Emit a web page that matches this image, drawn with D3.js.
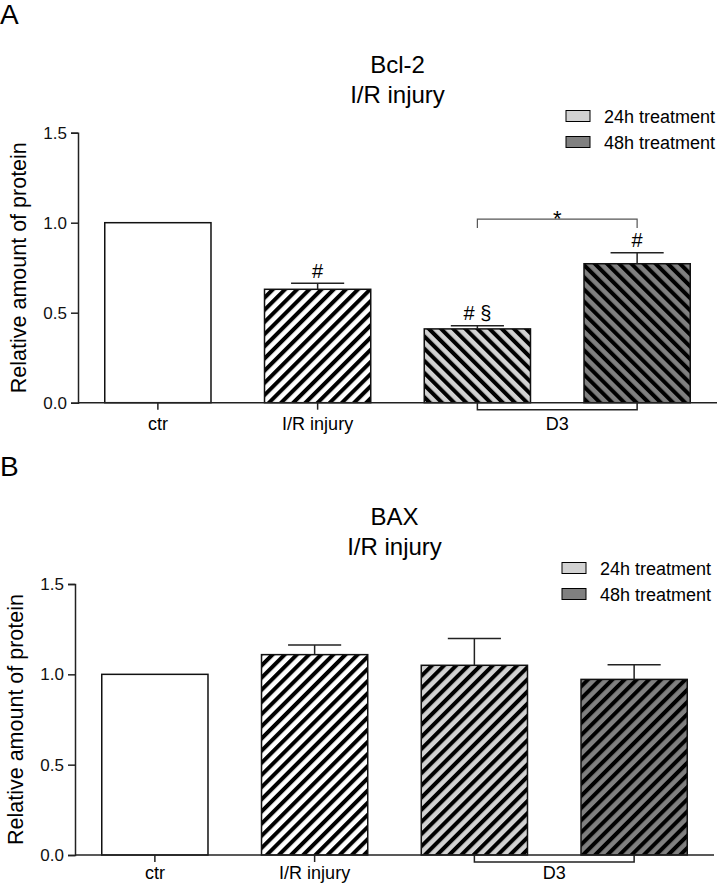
<!DOCTYPE html>
<html>
<head>
<meta charset="utf-8">
<script src="https://cdn.jsdelivr.net/npm/d3@7"></script>
<style>
  html, body { margin: 0; padding: 0; background: #fff; }
  svg { display: block; font-family: "Liberation Sans", Arial, sans-serif; }
</style>
</head>
<body>
<svg id="chart" width="719" height="886"></svg>
<script>
// ---------- data ----------
const categories = ["ctr", "I/R injury", "D3 24h", "D3 48h"];
const xTickLabels = ["ctr", "I/R injury"];
const groupLabel = "D3";
const legendLabels = ["24h treatment", "48h treatment"];
const yTicks = [0.0, 0.5, 1.0, 1.5];
const yLabel = "Relative amount of protein";

const bcl2Means = [1.0, 0.63, 0.41, 0.772];
const bcl2Errors = [0, 0.033, 0.018, 0.061];
const bcl2Marks = ["", "#", "# §", "#"];

const baxMeans = [1.0, 1.109, 1.05, 0.972];
const baxErrors = [0, 0.053, 0.149, 0.081];

// ---------- drawing ----------
const svg = d3.select("#chart");
const defs = svg.append("defs");

function stripePattern(id, bg, angle) {
  const p = defs.append("pattern")
    .attr("id", id)
    .attr("patternUnits", "userSpaceOnUse")
    .attr("width", 8.6).attr("height", 8.6)
    .attr("patternTransform", `rotate(${angle})`);
  p.append("rect").attr("width", 8.6).attr("height", 8.6).attr("fill", bg);
  p.append("rect").attr("x", 0).attr("width", 4).attr("height", 8.6).attr("fill", "#000");
}
stripePattern("whiteFwd", "#ffffff", 45);
stripePattern("lightBack", "#d2d2d2", -45);
stripePattern("darkBack", "#808080", -45);
stripePattern("lightFwd", "#d2d2d2", 45);
stripePattern("darkFwd", "#808080", 45);

const legendFills = ["#d2d2d2", "#808080"];
const lineCol = "#222";

function drawPanel(opt) {
  const g = svg.append("g");
  const x = d3.scaleBand().domain(categories)
    .range([opt.left, opt.right]).paddingInner(0.335).paddingOuter(0.1675);
  const y = d3.scaleLinear().domain([0, 1.5]).range([opt.bottom, opt.top]);

  // panel letter
  g.append("text").attr("x", 0).attr("y", opt.letterY)
    .attr("font-size", 28).text(opt.letter);

  // titles
  const cx = (opt.left + opt.right) / 2;
  g.append("text").attr("x", cx).attr("y", opt.titleY).attr("text-anchor", "middle")
    .attr("font-size", 24).text(opt.title1);
  g.append("text").attr("x", cx).attr("y", opt.titleY + 30).attr("text-anchor", "middle")
    .attr("font-size", 24).text(opt.title2);

  // legend
  legendLabels.forEach((lab, i) => {
    const ly = opt.legendY + i * 26;
    g.append("rect").attr("x", opt.legendX).attr("y", ly - 5.5)
      .attr("width", 24).attr("height", 11)
      .attr("fill", legendFills[i]).attr("stroke", "#000").attr("stroke-width", 1);
    g.append("text").attr("x", opt.legendX + 38).attr("y", ly + 6.5)
      .attr("font-size", 18).text(lab);
  });

  // bars
  g.selectAll("rect.bar").data(categories).join("rect")
    .attr("class", "bar")
    .attr("x", d => x(d))
    .attr("y", (d, i) => y(opt.means[i]))
    .attr("width", x.bandwidth())
    .attr("height", (d, i) => y(0) - y(opt.means[i]))
    .attr("fill", (d, i) => opt.fills[i])
    .attr("stroke", "#111").attr("stroke-width", 1.5);

  // error bars
  categories.forEach((c, i) => {
    if (!opt.errors[i]) return;
    const xc = x(c) + x.bandwidth() / 2;
    const yt = y(opt.means[i] + opt.errors[i]);
    g.append("line").attr("x1", xc).attr("x2", xc)
      .attr("y1", y(opt.means[i])).attr("y2", yt)
      .attr("stroke", lineCol).attr("stroke-width", 1.5);
    g.append("line").attr("x1", xc - x.bandwidth() / 4).attr("x2", xc + x.bandwidth() / 4)
      .attr("y1", yt).attr("y2", yt)
      .attr("stroke", lineCol).attr("stroke-width", 1.5);
  });

  // y axis
  const yAxis = d3.axisLeft(y).tickValues(yTicks).tickFormat(d3.format(".1f"))
    .tickSize(7).tickPadding(4);
  const ya = g.append("g").attr("transform", `translate(${opt.left},0)`).call(yAxis);
  ya.select(".domain").attr("stroke", lineCol).attr("stroke-width", 1.5);
  ya.selectAll(".tick line").attr("stroke", lineCol).attr("stroke-width", 1.5);
  ya.selectAll(".tick text").attr("font-size", 17).attr("fill", "#111")
    .attr("font-family", "Liberation Sans, Arial, sans-serif");

  // x axis line
  g.append("line").attr("x1", opt.left).attr("x2", opt.right)
    .attr("y1", y(0)).attr("y2", y(0))
    .attr("stroke", lineCol).attr("stroke-width", 1.5);

  // x ticks and labels for first two categories
  xTickLabels.forEach((lab, i) => {
    const xc = x(categories[i]) + x.bandwidth() / 2;
    g.append("line").attr("x1", xc).attr("x2", xc)
      .attr("y1", y(0)).attr("y2", y(0) + 7)
      .attr("stroke", lineCol).attr("stroke-width", 1.5);
    g.append("text").attr("x", xc).attr("y", y(0) + opt.labelOffset)
      .attr("text-anchor", "middle").attr("font-size", 18).text(lab);
  });

  // D3 group bracket
  const x24 = x(categories[2]) + x.bandwidth() / 2;
  const x48 = x(categories[3]) + x.bandwidth() / 2;
  g.append("path")
    .attr("d", `M${x24},${y(0)}V${y(0) + 7}H${x48}V${y(0)}`)
    .attr("fill", "none").attr("stroke", lineCol).attr("stroke-width", 1.5);
  g.append("text").attr("x", (x24 + x48) / 2).attr("y", y(0) + opt.labelOffset)
    .attr("text-anchor", "middle").attr("font-size", 18).text(groupLabel);

  // y label
  g.append("text")
    .attr("transform", `translate(${opt.yLabelX},${(y(0) + y(1.5)) / 2}) rotate(-90)`)
    .attr("text-anchor", "middle").attr("font-size", 21.5).text(yLabel);

  return { x, y, g };
}

// Panel A
const A = drawPanel({
  letter: "A", letterY: 24,
  title1: "Bcl-2", title2: "I/R injury", titleY: 73,
  legendX: 566, legendY: 116,
  left: 78, right: 717, top: 132.7, bottom: 402.7,
  labelOffset: 27.5,
  means: bcl2Means, errors: bcl2Errors,
  fills: ["#ffffff", "url(#whiteFwd)", "url(#lightBack)", "url(#darkBack)"],
  yLabelX: 26
});

// annotations for Bcl-2
categories.forEach((c, i) => {
  if (!bcl2Marks[i]) return;
  const xc = A.x(c) + A.x.bandwidth() / 2;
  const yt = A.y(bcl2Means[i] + bcl2Errors[i]);
  A.g.append("text").attr("x", xc).attr("y", yt - 5.5)
    .attr("text-anchor", "middle").attr("font-size", 20).text(bcl2Marks[i]);
});
// significance bracket between D3 24h and 48h
{
  const x24 = A.x(categories[2]) + A.x.bandwidth() / 2;
  const x48 = A.x(categories[3]) + A.x.bandwidth() / 2;
  const yb = A.y(1.02);
  A.g.append("path").attr("d", `M${x24},${yb + 9}V${yb}H${x48}V${yb + 9}`)
    .attr("fill", "none").attr("stroke", "#555").attr("stroke-width", 1.2);
  A.g.append("text").attr("x", (x24 + x48) / 2).attr("y", yb + 7)
    .attr("text-anchor", "middle").attr("font-size", 22).text("*");
}

// Panel B
drawPanel({
  letter: "B", letterY: 476,
  title1: "BAX", title2: "I/R injury", titleY: 525,
  legendX: 562, legendY: 568,
  left: 75, right: 714, top: 584, bottom: 855,
  labelOffset: 24,
  means: baxMeans, errors: baxErrors,
  fills: ["#ffffff", "url(#whiteFwd)", "url(#lightFwd)", "url(#darkFwd)"],
  yLabelX: 23
});
</script>
</body>
</html>
